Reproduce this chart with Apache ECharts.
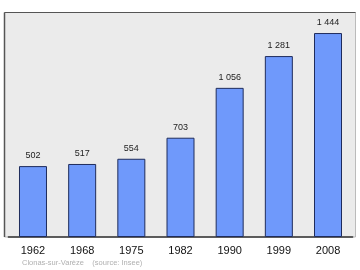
<!DOCTYPE html>
<html><head><meta charset="utf-8">
<script src="https://cdn.jsdelivr.net/npm/echarts@6/dist/echarts.min.js"></script>
<style>html,body{margin:0;padding:0;background:#fff}#c{width:360px;height:270px}</style>
</head><body><div id="c"></div>
<script>
const years = ['1962','1968','1975','1982','1990','1999','2008'];
const population = [502, 517, 554, 703, 1056, 1281, 1444];
const footer = 'Clonas-sur-Varèze    (source: Insee)';

const chart = echarts.init(document.getElementById('c'), null, {renderer:'canvas'});
chart.setOption({
  animation: false,
  backgroundColor: '#fff',
  graphic: [
    {type:'rect', shape:{x:4.5,y:12.5,width:351,height:224.5}, style:{fill:'#ebebeb', stroke:'#bbbbbb', lineWidth:1}, z:-10},
    {type:'line', shape:{x1:4.5,y1:12.5,x2:4.5,y2:237}, style:{stroke:'#555', lineWidth:1.5}, z:-9},
    {type:'line', shape:{x1:4.5,y1:12.5,x2:355.5,y2:12.5}, style:{stroke:'#555', lineWidth:1}, z:-9},
    {type:'text', left:22, top:259, style:{text:footer, fill:'#b0b0b0', font:'7.5px "Liberation Sans", Arial, sans-serif'}}
  ],
  grid: {left:8.4, right:7.4, top:12, bottom:33, containLabel:false},
  xAxis: {
    type:'category', data: years, boundaryGap:true,
    axisLine:{show:true, lineStyle:{color:'#333', width:1.5}},
    axisTick:{show:false},
    axisLabel:{color:'#111', fontSize:11, margin:8, fontFamily:'"Liberation Sans", Arial, sans-serif'}
  },
  yAxis: {
    type:'value', min:0, max:1593, show:false, splitLine:{show:false}
  },
  series: [{
    type:'bar', data: population, barWidth:28,
    itemStyle:{color:'#6f99fb', borderColor:'#1f2c5c', borderWidth:1},
    label:{show:true, position:'top', distance:6, color:'#222', fontSize:9,
      fontFamily:'"Liberation Sans", Arial, sans-serif',
      formatter: p => p.value >= 1000 ? Math.floor(p.value/1000) + ' ' + String(p.value%1000).padStart(3,'0') : String(p.value)}
  }]
});
</script></body></html>
